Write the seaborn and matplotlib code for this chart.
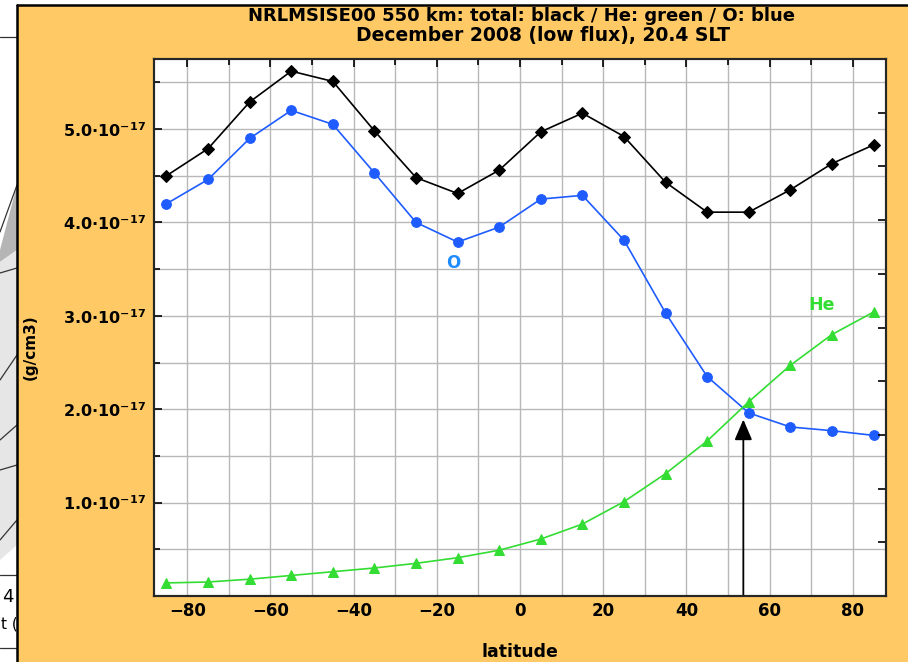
import matplotlib
matplotlib.use("Agg")
import matplotlib.pyplot as plt
from matplotlib.patches import Rectangle, Polygon
from matplotlib.lines import Line2D
from matplotlib.ticker import MultipleLocator, FuncFormatter
import numpy as np
import pandas as pd
import seaborn as sns

# latitude grid of the model run (deg)
latitude = [-85, -75, -65, -55, -45, -35, -25, -15, -5,
            5, 15, 25, 35, 45, 55, 65, 75, 85]

# mass densities in units of 1e-17 g/cm3
total = [4.50, 4.79, 5.29, 5.62, 5.51, 4.98, 4.48, 4.31, 4.56,
         4.97, 5.17, 4.92, 4.43, 4.11, 4.11, 4.35, 4.63, 4.83]
oxygen = [4.20, 4.46, 4.90, 5.20, 5.05, 4.53, 4.00, 3.79, 3.95,
          4.25, 4.29, 3.81, 3.03, 2.35, 1.96, 1.81, 1.77, 1.72]
helium = [0.14, 0.15, 0.18, 0.22, 0.26, 0.30, 0.35, 0.41, 0.49,
          0.61, 0.77, 1.01, 1.31, 1.66, 2.08, 2.47, 2.80, 3.04]

UNIT = 1e-17
arrow_lat = 53.7
arrow_tip = 1.89

ORANGE = "#ffca66"
BLUE = "#1f5cff"
GREEN = "#33dd33"

sns.set_style("white")
plt.rcParams["font.family"] = ["DejaVu Sans"]
plt.rcParams["font.weight"] = "bold"
plt.rcParams["text.color"] = "black"
plt.rcParams["xtick.color"] = "black"
plt.rcParams["ytick.color"] = "black"
plt.rcParams["axes.labelcolor"] = "black"
plt.rcParams["mathtext.fontset"] = "custom"
plt.rcParams["mathtext.rm"] = "DejaVu Sans:bold"
plt.rcParams["mathtext.it"] = "DejaVu Sans:bold"
plt.rcParams["mathtext.bf"] = "DejaVu Sans:bold"

W, H = 908, 662
fig = plt.figure(figsize=(W / 100, H / 100), dpi=100)
fig.patch.set_facecolor("white")


def fx(px):
    return px / W


def fy(py):
    return 1 - py / H


BG = dict(transform=fig.transFigure, zorder=-10)

# neighbouring figure strip on the left (partly visible)
fig.add_artist(Polygon([(fx(0), fy(250)), (fx(17), fy(185)), (fx(17), fy(250)), (fx(0), fy(262))],
                       closed=True, facecolor="#b5b5b5", edgecolor="none", **BG))
fig.add_artist(Polygon([(fx(0), fy(262)), (fx(17), fy(250)), (fx(17), fy(545)), (fx(0), fy(560))],
                       closed=True, facecolor="#e6e6e6", edgecolor="none", **BG))
for seg in [((0, 37), (17, 37)), ((0, 232), (17, 185)), ((0, 273), (17, 268)),
            ((0, 380), (17, 355)), ((0, 440), (17, 425)), ((0, 470), (17, 465)),
            ((0, 540), (17, 520)), ((0, 575), (17, 575)), ((0, 648), (17, 648))]:
    (x0, y0), (x1, y1) = seg
    fig.add_artist(Line2D([fx(x0), fx(x1)], [fy(y0), fy(y1)], color="#333333", lw=0.9, **BG))
fig.text(fx(2), fy(597), "4", fontsize=13, fontweight="normal", ha="left", va="center")
fig.text(fx(1), fy(624), "t (", fontsize=11, fontweight="normal", ha="left", va="center")

# orange panel
fig.add_artist(Rectangle((fx(17), 0), 1 - fx(17), fy(5), facecolor=ORANGE, edgecolor="none", **BG))
fig.add_artist(Line2D([fx(17), fx(17)], [0, fy(5)], color="black", lw=1.8, **BG))
fig.add_artist(Line2D([fx(17), 1], [fy(5), fy(5)], color="black", lw=1.8, **BG))

ax = fig.add_axes([fx(154), fy(596), fx(886) - fx(154), fy(59) - fy(596)])
ax.set_facecolor("white")

lat = np.array(latitude)
sns.lineplot(x=lat, y=np.array(total) * UNIT, color="black", marker="D", markersize=6.5,
             markeredgecolor="black", linewidth=1.2, ax=ax, legend=False)
sns.lineplot(x=lat, y=np.array(oxygen) * UNIT, color=BLUE, marker="o", markersize=7,
             markeredgecolor=BLUE, linewidth=1.2, ax=ax, legend=False)
sns.lineplot(x=lat, y=np.array(helium) * UNIT, color=GREEN, marker="^", markersize=6.5,
             markeredgecolor=GREEN, linewidth=1.2, ax=ax, legend=False)

ax.set_xlim(-88, 88)
ax.set_ylim(0, 5.75 * UNIT)
ax.xaxis.set_major_locator(MultipleLocator(20))
ax.xaxis.set_minor_locator(MultipleLocator(10))
ax.set_yticks([k * UNIT for k in range(1, 6)])
ax.yaxis.set_minor_locator(MultipleLocator(0.5 * UNIT))
ax.yaxis.set_major_formatter(FuncFormatter(lambda v, p: f"{v / UNIT:.1f}\u00b710$^{{-17}}$"))
ax.grid(True, which="both", color="#b8b8b8", lw=1.0)
ax.set_axisbelow(True)
ax.tick_params(which="both", direction="in", top=True, right=False, width=1.2)
ax.tick_params(axis="y", which="major", length=6, labelsize=11.5, pad=6)
ax.tick_params(axis="x", which="major", length=6, labelsize=12, pad=4)
ax.tick_params(which="minor", length=4)
for s in ax.spines.values():
    s.set_linewidth(1.5)
    s.set_color("black")
ax.set_xlabel("")
ax.set_ylabel("")

# second density scale on the right (ticks only)
ax2 = ax.twinx()
ax2.set_ylim(0, 10)
ax2.yaxis.set_major_locator(MultipleLocator(1))
ax2.tick_params(axis="y", direction="in", length=6, width=1.2, labelright=False)
ax2.grid(False)
for s in ax2.spines.values():
    s.set_linewidth(1.5)

ax.text(-16, 3.57 * UNIT, "O", color="#1e8cff", fontsize=12, fontweight="bold",
        ha="center", va="center")
ax.text(72.5, 3.0 * UNIT + 0.12 * UNIT, "He", color=GREEN, fontsize=12.5, fontweight="bold",
        ha="center", va="center")
ax.annotate("", xy=(arrow_lat, arrow_tip * UNIT), xytext=(arrow_lat, 0),
            arrowprops=dict(arrowstyle="-|>,head_length=0.7,head_width=0.3", color="black",
                            lw=1.3, mutation_scale=18, shrinkA=0, shrinkB=0))

fig.text(fx(522), fy(16), "NRLMSISE00 550 km: total: black / He: green / O: blue",
         fontsize=13, fontweight="bold", ha="center", va="center")
fig.text(fx(543), fy(36), "December 2008 (low flux), 20.4 SLT",
         fontsize=13.5, fontweight="bold", ha="center", va="center")
fig.text(fx(30), fy(347), "(g/cm3)", rotation=90, fontsize=11, fontweight="bold",
         ha="center", va="center")
fig.text(fx(520), fy(652), "latitude", fontsize=12.5, fontweight="bold", ha="center", va="center")

fig.savefig("out.png", dpi=100)
